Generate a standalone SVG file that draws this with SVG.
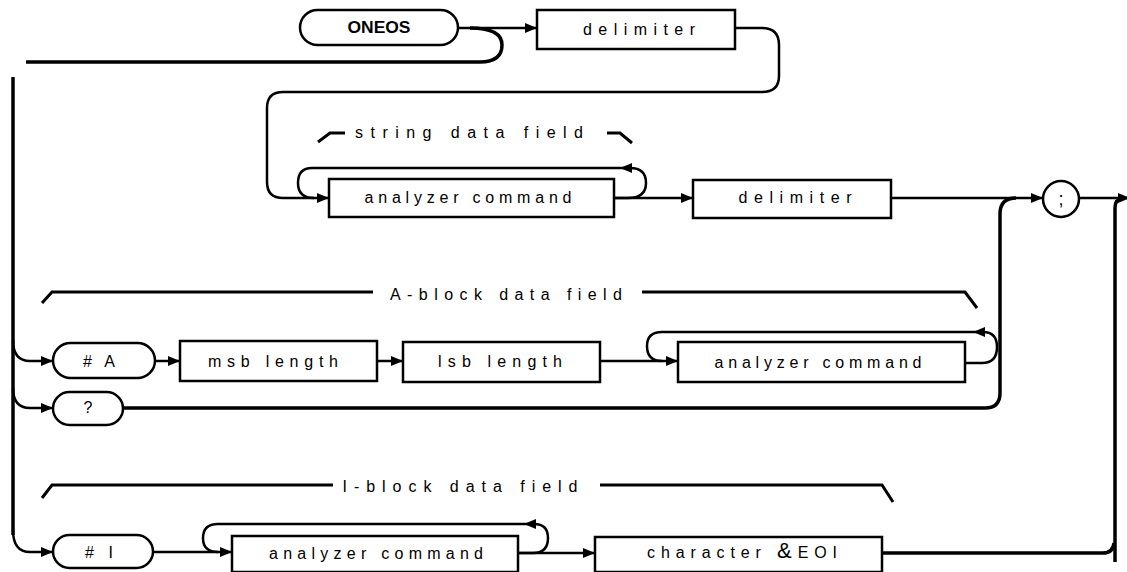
<svg xmlns="http://www.w3.org/2000/svg" width="1127" height="572" viewBox="0 0 1127 572">
<style>
  .box{fill:#fff;stroke:#000;stroke-width:2.5}
  .ln{fill:none;stroke:#000;stroke-width:2.5}
  .thk{fill:none;stroke:#000;stroke-width:3.5}
  .lbl{fill:none;stroke:#000;stroke-width:3}
  .t{font-family:"Liberation Sans",Arial,sans-serif;font-size:16px;fill:#000;text-anchor:middle}
  .b{font-weight:bold;font-size:16px}
</style>
<defs>
  <marker id="ah" viewBox="0 0 12 10" refX="12" refY="5" markerWidth="12" markerHeight="10" markerUnits="userSpaceOnUse" orient="auto">
    <path d="M0,0 L12,5 L0,10 z" fill="#000"/>
  </marker>
</defs>
<rect width="1127" height="572" fill="#fff"/>

<g id="labels">
  <path class="lbl" d="M318,142 L330,133 L345,133"/>
  <path class="lbl" d="M607,133 L620,133 L632,143"/>
  <text class="t" x="469" y="138" textLength="228" lengthAdjust="spacing">string data field</text>
  <path class="lbl" d="M42,303 L52,292 L373,292"/>
  <path class="lbl" d="M642,292 L965,292 L977,308"/>
  <text class="t" x="506" y="300" textLength="232" lengthAdjust="spacing">A-block data field</text>
  <path class="lbl" d="M42,498 L52,485 L333,485"/>
  <path class="lbl" d="M600,485 L882,485 L893,502"/>
  <text class="t" x="460" y="492" textLength="235" lengthAdjust="spacing">I-block data field</text>
</g>

<g id="connectors">
  <path class="ln" d="M458,28 L537,28" marker-end="url(#ah)"/>
  <path class="thk" d="M470,28 Q502,28 502,45 Q502,62 480,62 L26,62"/>
  <path class="thk" d="M13,77 L13,535"/>
  <path class="ln" d="M13,340 Q13,361 30,361 L53,361" marker-end="url(#ah)"/>
  <path class="ln" d="M13,388 Q13,408 30,408 L53,408" marker-end="url(#ah)"/>
  <path class="ln" d="M13,530 Q13,552 30,552 L53,552" marker-end="url(#ah)"/>
  <path class="ln" d="M735,28 L762,28 Q779,28 779,45 L779,76 Q779,92 762,92 L283,92 Q267,92 267,108 L267,182 Q267,198 283,198 L329,198" marker-end="url(#ah)"/>
  <path class="ln" d="M614,198 L628,198 Q646,198 646,183 Q646,168 630,168 L620,168" marker-end="url(#ah)"/>
  <path class="ln" d="M620,168 L312,168 Q298,168 298,183 Q298,198 314,198"/>
  <path class="ln" d="M614,198 L693,198" marker-end="url(#ah)"/>
  <path class="ln" d="M891,198 L1043,198" marker-end="url(#ah)"/>
  <path class="ln" d="M1079,198 L1130,198" marker-end="url(#ah)"/>
  <path class="thk" d="M1115,562 L1115,208 Q1115,199 1122,199"/>
  <path class="ln" d="M155,361 L180,361" marker-end="url(#ah)"/>
  <path class="ln" d="M377,361 L403,361" marker-end="url(#ah)"/>
  <path class="ln" d="M600,361 L678,361" marker-end="url(#ah)"/>
  <path class="ln" d="M965,363 L982,363 Q997,363 997,347 Q997,332 983,332 L973,332" marker-end="url(#ah)"/>
  <path class="ln" d="M973,332 L662,332 Q647,332 647,346 Q647,361 662,361"/>
  <path class="thk" d="M123,408 L985,408 Q1000,408 1000,393 L1000,214 Q1000,198 1016,198"/>
  <path class="ln" d="M153,552 L232,552" marker-end="url(#ah)"/>
  <path class="ln" d="M518,553 L533,553 Q548,553 548,538 Q548,524 534,524 L524,524" marker-end="url(#ah)"/>
  <path class="ln" d="M524,524 L218,524 Q203,524 203,538 Q203,552 218,552"/>
  <path class="ln" d="M518,553 L595,553" marker-end="url(#ah)"/>
  <path class="thk" d="M882,553 L1103,553 Q1113,553 1114,543"/>
</g>

<g id="node-oneos">
  <rect class="box" x="300" y="10" width="158" height="35" rx="17.5"/>
  <text class="t b" x="379" y="33" textLength="63" lengthAdjust="spacingAndGlyphs">ONEOS</text>
</g>
<g id="node-delimiter1">
  <rect class="box" x="537" y="10" width="198" height="39"/>
  <text class="t" x="639" y="35" textLength="112" lengthAdjust="spacing">delimiter</text>
</g>
<g id="node-analyzer-string">
  <rect class="box" x="329" y="179" width="285" height="38"/>
  <text class="t" x="468" y="203" textLength="207" lengthAdjust="spacing">analyzer command</text>
</g>
<g id="node-delimiter2">
  <rect class="box" x="693" y="180" width="198" height="38"/>
  <text class="t" x="795" y="203" textLength="113" lengthAdjust="spacing">delimiter</text>
</g>
<g id="node-semicolon">
  <circle class="box" cx="1061" cy="199" r="18"/>
  <text class="t" x="1061" y="205" style="font-size:18px">;</text>
</g>
<g id="node-hashA">
  <rect class="box" x="53" y="343" width="102" height="35" rx="17.5"/>
  <text class="t" x="99" y="367" textLength="32" lengthAdjust="spacing">#A</text>
</g>
<g id="node-msb">
  <rect class="box" x="180" y="341" width="197" height="40"/>
  <text class="t" x="273" y="367" textLength="130" lengthAdjust="spacing">msb length</text>
</g>
<g id="node-lsb">
  <rect class="box" x="403" y="342" width="197" height="40"/>
  <text class="t" x="500" y="367" textLength="124" lengthAdjust="spacing">lsb length</text>
</g>
<g id="node-analyzer-a">
  <rect class="box" x="678" y="342" width="287" height="40"/>
  <text class="t" x="818" y="368" textLength="207" lengthAdjust="spacing">analyzer command</text>
</g>
<g id="node-query">
  <rect class="box" x="53" y="392" width="70" height="33" rx="16.5"/>
  <text class="t" x="88" y="413">?</text>
</g>
<g id="node-hashI">
  <rect class="box" x="53" y="535" width="100" height="33" rx="16.5"/>
  <text class="t" x="99" y="558" textLength="28" lengthAdjust="spacing">#I</text>
</g>
<g id="node-analyzer-i">
  <rect class="box" x="232" y="536" width="286" height="36"/>
  <text class="t" x="376" y="559" textLength="214" lengthAdjust="spacing">analyzer command</text>
</g>
<g id="node-character">
  <rect class="box" x="595" y="537" width="287" height="35"/>
  <text class="t" x="742" y="558" textLength="190" lengthAdjust="spacing">character <tspan style="font-size:22px">&amp;</tspan>EOI</text>
</g>
</svg>
